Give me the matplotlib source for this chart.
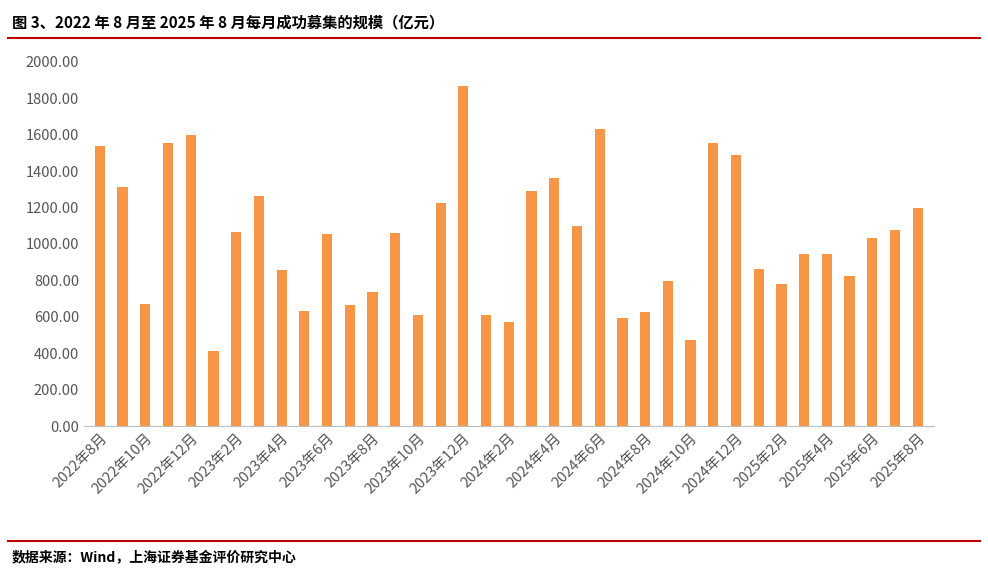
import matplotlib.pyplot as plt

plt.rcParams['font.family'] = ['Noto Sans CJK SC', 'DejaVu Sans']

months = []
for y in (2022, 2023, 2024, 2025):
    for m in range(1, 13):
        if (y, m) >= (2022, 8) and (y, m) <= (2025, 8):
            months.append(f'{y}年{m}月')

values = [1538, 1313, 670, 1555, 1599, 412, 1066, 1264, 857, 632, 1055, 665,
          736, 1060, 610, 1225, 1868, 610, 571, 1291, 1363, 1099, 1632, 593,
          626, 797, 473, 1555, 1489, 863, 780, 945, 945, 824, 1033, 1077, 1198]

fig = plt.figure(figsize=(9.88, 5.72), dpi=100)
ax = fig.add_axes([0.085, 0.255, 0.86, 0.637])
x = list(range(len(values)))
ax.bar(x, values, width=0.45, color='#F79646')
ax.set_ylim(0, 2000)
ax.set_yticks(range(0, 2001, 200))
ax.set_yticklabels([f'{v:.2f}' for v in range(0, 2001, 200)], fontsize=10.5, color='#555555')
ax.set_xlim(-0.7, len(values) - 0.3)
ax.set_xticks(x[::2])
ax.set_xticklabels(months[::2], rotation=45, ha='right', rotation_mode='anchor',
                   fontsize=10.5, color='#555555')
for s in ('top', 'right', 'left'):
    ax.spines[s].set_visible(False)
ax.spines['bottom'].set_color('#BFBFBF')
ax.tick_params(axis='y', length=0)
ax.tick_params(axis='x', length=0)

fig.text(0.012, 0.975, '图 3、2022 年 8 月至 2025 年 8 月每月成功募集的规模（亿元）',
         fontsize=11, fontweight='bold', va='top')
fig.add_artist(plt.Line2D([0.008, 0.992], [0.934, 0.934], color='#C00000', lw=1.5))
fig.add_artist(plt.Line2D([0.008, 0.992], [0.054, 0.054], color='#C00000', lw=1.5))
fig.text(0.012, 0.025, '数据来源：Wind，上海证券基金评价研究中心', fontsize=10,
         fontweight='bold', va='center')

fig.savefig('out.png', dpi=100)
